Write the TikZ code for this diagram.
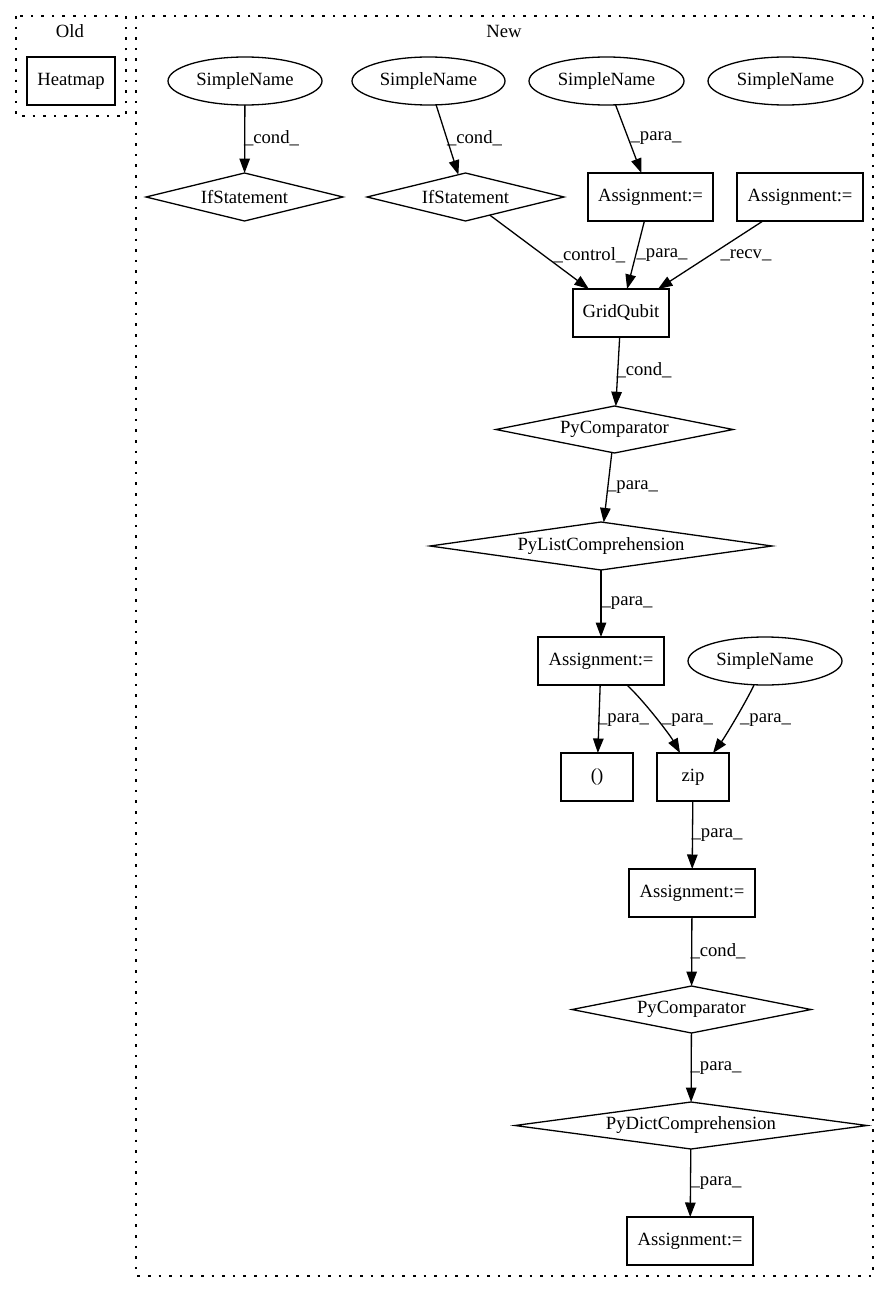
\documentclass[tikz,border=0pt]{standalone}
\usepackage{fontspec}
\setmainfont{Liberation Serif}
\usetikzlibrary{shapes.geometric,arrows.meta,calc}
\begin{document}
\begin{tikzpicture}[x=1pt,y=-1pt,
  every node/.style={font=\fontsize{18.67}{22}\selectfont, inner sep=0pt, outer sep=0pt},
  box/.style={draw, line width=1.3pt, rectangle, minimum width=#1pt, minimum height=48pt},
  ell/.style={draw, line width=1.3pt, ellipse, minimum width=#1pt, minimum height=48pt},
  dia/.style n args={3}{draw, line width=1.3pt, diamond, shape aspect=#3, minimum width=#1pt, minimum height=#2pt},
  edge/.style={line width=1.3pt, -{Triangle[length=14.5pt,width=10.5pt]}},
  lbl/.style={},
  clus/.style={line width=1.3pt, dash pattern=on 2.6pt off 8pt}
]
\useasboundingbox (0,0) rectangle (889,1292);

% clusters
\draw[clus] (16,16) rectangle (126,116);
\node (oldlbl) at (70,31) {Old};
\draw[clus] (136,16) rectangle (873,1276);
\node (newlbl) at (504,31) {New};

% nodes
\node[box=88] (heat) at (71,81) {Heatmap};
\node[ell=154] (sn1) at (245,81) {SimpleName};
\node[ell=153] (sn2) at (428.5,81) {SimpleName};
\node[ell=155] (sn3) at (606.5,81) {SimpleName};
\node[ell=155] (sn4) at (785.5,81) {SimpleName};
\node[dia={197}{48}{4.104}] (if1) at (244.5,197) {IfStatement};
\node[dia={197}{48}{4.104}] (if2) at (465.5,197) {IfStatement};
\node[box=125] (a1) at (650.5,197) {Assignment:=};
\node[box=126] (a2) at (800,197) {Assignment:=};
\node[box=96] (gq) at (621,313) {GridQubit};
\node[dia={237}{47}{5.04}] (pc1) at (614.5,429.5) {PyComparator};
\node[dia={342}{48}{7.125}] (plc) at (601,546) {PyListComprehension};
\node[box=126] (a3) at (601,661) {Assignment:=};
\node[ell=154] (sn5) at (765,661) {SimpleName};
\node[box=72] (par) at (597,777) {()};
\node[box=72] (zip) at (693,777) {zip};
\node[box=126] (a4) at (692,893) {Assignment:=};
\node[dia={239}{47}{5.085}] (pc2) at (691.5,1009.5) {PyComparator};
\node[dia={352}{47}{7.49}] (pdc) at (691,1125.5) {PyDictComprehension};
\node[box=126] (a5) at (690,1241) {Assignment:=};

% edges
\draw[edge] (sn1) -- (if1) node[lbl] at (271.5,138) {\_cond\_};
\draw[edge] (sn2) -- (if2) node[lbl] at (474.5,138) {\_cond\_};
\draw[edge] (sn3) -- (a1) node[lbl] at (656,138) {\_para\_};
\draw[edge] (if2) -- (gq) node[lbl] at (589.5,255) {\_control\_};
\draw[edge] (a1) -- (gq) node[lbl] at (662,255) {\_para\_};
\draw[edge] (a2) -- (gq) node[lbl] at (746,255) {\_recv\_};
\draw[edge] (gq) -- (pc1) node[lbl] at (644,370) {\_cond\_};
\draw[edge] (pc1) -- (plc) node[lbl] at (632.5,487) {\_para\_};
\draw[edge] (plc) -- (a3) node[lbl] at (627,603) {\_para\_};
\draw[edge] (a3) -- (par) node[lbl] at (623.5,720) {\_para\_};
\draw[edge] ($(a3.south)+(26,0)$) .. controls +(18,17) and +(-10,-18) .. ($(zip.north)+(-13,0)$) node[lbl] at (687.5,720) {\_para\_};
\draw[edge] ($(sn5.south)+(-11,0)$) .. controls +(-8,17) and +(12,-16) .. ($(zip.north)+(20,0)$) node[lbl] at (765.5,720) {\_para\_};
\draw[edge] (zip) -- (a4) node[lbl] at (717,835) {\_para\_};
\draw[edge] (a4) -- (pc2) node[lbl] at (718,951) {\_cond\_};
\draw[edge] (pc2) -- (pdc) node[lbl] at (716,1068) {\_para\_};
\draw[edge] (pdc) -- (a5) node[lbl] at (716,1183) {\_para\_};
\end{tikzpicture}
\end{document}
